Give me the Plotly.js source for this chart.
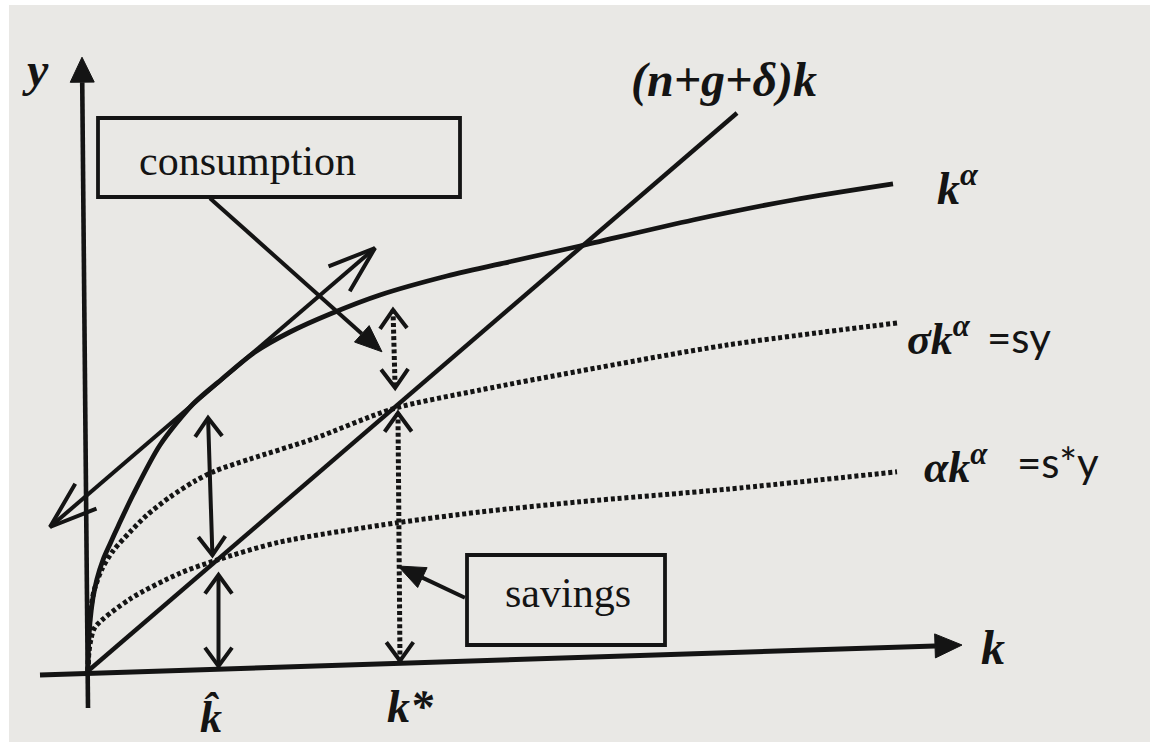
<!DOCTYPE html>
<html>
<head>
<meta charset="utf-8">
<script src="https://cdn.plot.ly/plotly-3.0.1.min.js"></script>
<style>
  html, body { margin: 0; padding: 0; background: #ffffff; }
  #chart { width: 1150px; height: 746px; }
</style>
</head>
<body>
<div id="chart"></div>
<script>
// Solow growth diagram: output k^α, two saving curves and break-even investment (n+g+δ)k.

// output per effective worker, k^α
const outputK = [0, 0.006, 0.023, 0.057, 0.103, 0.172, 0.253, 0.345, 0.517, 0.828, 1.207, 1.540, 1.920, 2.322, 2.782, 3.356, 4.126, 4.885, 5.655, 6.954, 8.103, 9.253];
const outputY = [0, 0.383, 0.817, 1.217, 1.533, 1.85, 2.117, 2.41, 2.933, 3.767, 4.45, 4.867, 5.317, 5.65, 5.95, 6.267, 6.583, 6.833, 7.083, 7.517, 7.85, 8.117];

// saving curve σk^α = sy
const saveHighK = [0, 0.011, 0.023, 0.069, 0.161, 0.287, 0.483, 0.678, 0.943, 1.230, 1.460, 1.862, 2.586, 3.506, 4.506, 5.655, 7.345, 9.299];
const saveHighY = [0, 0.483, 0.933, 1.333, 1.70, 2.00, 2.317, 2.60, 2.90, 3.167, 3.333, 3.533, 3.867, 4.37, 4.683, 5.00, 5.433, 5.80];

// saving curve αk^α = s*y
const saveLowK = [0, 0.011, 0.034, 0.080, 0.483, 1.057, 1.483, 2.207, 3.552, 4.506, 5.655, 7.345, 9.299];
const saveLowY = [0, 0.32, 0.53, 0.73, 1.20, 1.63, 1.85, 2.15, 2.47, 2.65, 2.82, 3.03, 3.32];

// break-even investment (n+g+δ)k
const breakEvenK = [0, 7.46];
const breakEvenY = [0, 9.30];

// tangent to k^α, drawn as a double-headed line
const tangentK = [-0.437, 3.299];
const tangentY = [2.40, 7.05];

// axes (start, end)
const xAxisK = [-0.552, 10.046];
const xAxisY = [-0.067, 0.433];
const yAxisK = [0, -0.069];
const yAxisY = [-0.617, 10.23];

// vertical gap arrows at k̂ and k*: [k, y] of top and bottom ends
const gapTop = [[1.38, 4.22], [1.50, 1.60], [3.506, 6.02], [3.563, 4.30]];
const gapBottom = [[1.43, 1.93], [1.50, 0.08], [3.53, 4.72], [3.586, 0.17]];
const gapDotted = [false, false, true, true];

// pointers from the label boxes
const pointerFrom = [[1.402, 7.88], [4.333, 1.22]];
const pointerTo = [[3.379, 5.32], [3.563, 1.75]];

const W = 1150, H = 746;
const X_RANGE = [-1.0115, 12.2069];
const Y_RANGE = [-1.25, 11.1833];
const INK = '#141414';

function toPx(p) {
  return [(p[0] - X_RANGE[0]) / (X_RANGE[1] - X_RANGE[0]) * W,
          (Y_RANGE[1] - p[1]) / (Y_RANGE[1] - Y_RANGE[0]) * H];
}
function toData(q) {
  return [X_RANGE[0] + q[0] / W * (X_RANGE[1] - X_RANGE[0]),
          Y_RANGE[1] - q[1] / H * (Y_RANGE[1] - Y_RANGE[0])];
}
function unitBack(tip, from) {
  const a = toPx(tip), b = toPx(from);
  const dx = b[0] - a[0], dy = b[1] - a[1];
  const L = Math.hypot(dx, dy);
  return [a, [dx / L, dy / L]];
}
// open V arrowhead at tip
function chevron(tip, from, len, angDeg) {
  const [a, u] = unitBack(tip, from);
  const t = angDeg * Math.PI / 180;
  const rot = (s) => [u[0] * Math.cos(s) - u[1] * Math.sin(s), u[0] * Math.sin(s) + u[1] * Math.cos(s)];
  const r1 = rot(t), r2 = rot(-t);
  const pts = [[a[0] + len * r1[0], a[1] + len * r1[1]], a, [a[0] + len * r2[0], a[1] + len * r2[1]]].map(toData);
  return { x: pts.map(p => p[0]), y: pts.map(p => p[1]) };
}
// filled triangular arrowhead at tip; also returns the base centre
function solidHead(tip, from, len, half) {
  const [a, u] = unitBack(tip, from);
  const base = [a[0] + len * u[0], a[1] + len * u[1]];
  const n = [-u[1], u[0]];
  const pts = [a, [base[0] + half * n[0], base[1] + half * n[1]], [base[0] - half * n[0], base[1] - half * n[1]], a].map(toData);
  return { x: pts.map(p => p[0]), y: pts.map(p => p[1]), base: toData(base) };
}

const traces = [];
function line(x, y, opts) {
  traces.push(Object.assign({
    type: 'scatter', mode: 'lines', x: x, y: y, hoverinfo: 'skip', showlegend: false,
    line: { color: INK, width: 4 }
  }, opts || {}));
}
function fillShape(s) {
  traces.push({ type: 'scatter', mode: 'lines', x: s.x, y: s.y, fill: 'toself', fillcolor: INK,
    line: { color: INK, width: 1 }, hoverinfo: 'skip', showlegend: false });
}

// axes with solid heads
const xTip = [xAxisK[1], xAxisY[1]], xStart = [xAxisK[0], xAxisY[0]];
const xh = solidHead(xTip, xStart, 27, 12);
line([xStart[0], xh.base[0]], [xStart[1], xh.base[1]], { line: { color: INK, width: 5 } });
fillShape(xh);
const yTip = [yAxisK[1], yAxisY[1]], yStart = [yAxisK[0], yAxisY[0]];
const yh = solidHead(yTip, yStart, 25, 12);
line([yStart[0], yh.base[0]], [yStart[1], yh.base[1]], { line: { color: INK, width: 4.6 } });
fillShape(yh);

// curves
const dotted = { color: INK, width: 5, dash: '4px,2.8px', shape: 'spline', smoothing: 0.8 };
line(saveHighK, saveHighY, { line: dotted });
line(saveLowK, saveLowY, { line: dotted });
line(breakEvenK, breakEvenY, { line: { color: INK, width: 4.4 } });
line(outputK, outputY, { line: { color: INK, width: 4.8, shape: 'spline', smoothing: 0.8 } });

// tangent with open heads at both ends
const tA = [tangentK[0], tangentY[0]], tB = [tangentK[1], tangentY[1]];
line(tangentK, tangentY, { line: { color: INK, width: 4 } });
[chevron(tA, tB, 50, 19), chevron(tB, tA, 50, 19)].forEach(c => line(c.x, c.y, { line: { color: INK, width: 4 } }));

// vertical gap arrows
gapTop.forEach((top, i) => {
  const bot = gapBottom[i];
  const isDotted = gapDotted[i];
  line([top[0], bot[0]], [top[1], bot[1]], { line: { color: INK, width: isDotted ? 5 : 4, dash: isDotted ? '4px,2.6px' : 'solid' } });
  [chevron(top, bot, 23, 36), chevron(bot, top, 23, 36)].forEach(c => line(c.x, c.y, { line: { color: INK, width: 4 } }));
});

// pointers from the boxes
pointerFrom.forEach((f, i) => {
  const h = solidHead(pointerTo[i], f, 27, 11);
  line([f[0], h.base[0]], [f[1], h.base[1]], { line: { color: INK, width: 4 } });
  fillShape(h);
});

// label helpers (page pixel positions)
const px = v => v / W, py = v => 1 - v / H;
const SERIF = 'Liberation Serif';
function label(text, x, y, size, family, anchor) {
  return { text: text, xref: 'paper', yref: 'paper', x: px(x), y: py(y), showarrow: false,
    xanchor: anchor || 'center', yanchor: 'middle', font: { family: family || SERIF, size: size, color: INK } };
}
const annotations = [
  label('<b><i>y</i></b>', 35, 70, 48),
  label('<b><i>k</i></b>', 993, 647, 48),
  label('<b><i>(n+g+δ)k</i></b>', 724, 80, 48),
  label('<b><i>k</i></b><sup><b><i>α</i></b></sup>', 935, 185, 46, SERIF, 'left'),
  label('<b><i>σk</i></b><sup><b><i>α</i></b></sup>', 905, 336, 44, SERIF, 'left'),
  label('=sy', 985, 337, 42, 'Lato', 'left'),
  label('<b><i>αk</i></b><sup><b><i>α</i></b></sup>', 922, 464, 44, SERIF, 'left'),
  label('=s*y', 1015, 462, 42, 'Lato', 'left'),
  label('<b><i>k\u0302</i></b>', 211, 717, 44),
  label('<b><i>k*</i></b>', 410, 706, 46),
  label('consumption', 137, 161, 42, SERIF, 'left'),
  label('savings', 503, 593, 42, SERIF, 'left')
];

const shapes = [
  { type: 'rect', xref: 'paper', yref: 'paper', x0: px(9), x1: 1, y0: py(742), y1: py(5),
    fillcolor: '#e9e8e5', line: { width: 0 }, layer: 'below' },
  { type: 'rect', xref: 'paper', yref: 'paper', x0: px(98), x1: px(460), y0: py(197), y1: py(118),
    line: { color: INK, width: 3.8 }, fillcolor: 'rgba(0,0,0,0)', layer: 'above' },
  { type: 'rect', xref: 'paper', yref: 'paper', x0: px(467), x1: px(665), y0: py(645), y1: py(555),
    line: { color: INK, width: 3.8 }, fillcolor: 'rgba(0,0,0,0)', layer: 'above' }
];

const layout = {
  width: W, height: H, autosize: false,
  margin: { l: 0, r: 0, t: 0, b: 0, pad: 0 },
  paper_bgcolor: '#ffffff', plot_bgcolor: 'rgba(0,0,0,0)',
  xaxis: { range: X_RANGE, visible: false, showgrid: false, zeroline: false, fixedrange: true },
  yaxis: { range: Y_RANGE, visible: false, showgrid: false, zeroline: false, fixedrange: true },
  showlegend: false, shapes: shapes, annotations: annotations
};

Plotly.newPlot('chart', traces, layout, { displayModeBar: false, staticPlot: true });
</script>
</body>
</html>
